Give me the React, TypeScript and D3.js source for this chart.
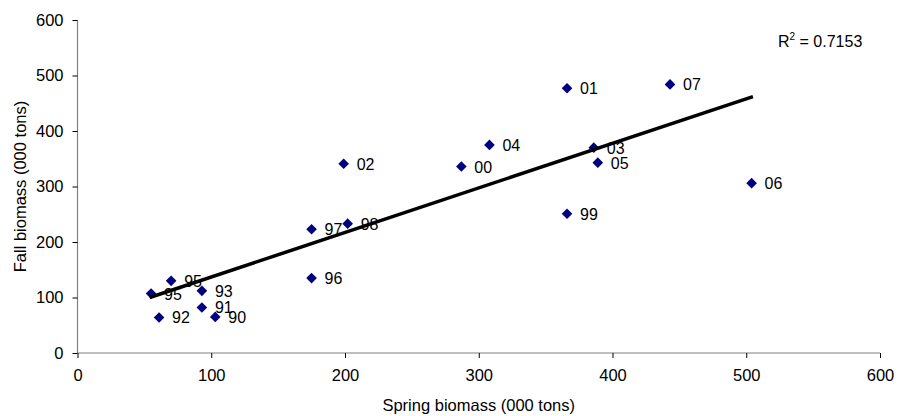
import { useEffect, useRef } from "react";
import * as d3 from "d3";

const years = ["01", "07", "03", "05", "06", "99", "04", "02", "00", "97", "98", "96", "95", "93", "95", "92", "91", "90"];
const spring = [366, 443, 386, 389, 504, 366, 308, 199, 287, 175, 202, 175, 70, 93, 55, 61, 93, 103];
const fall = [477, 484, 370, 343, 306, 251, 375, 341, 336, 223, 233, 135, 130, 112, 107, 64, 82, 65];
const trendX = [54, 505];
const trendY = [100, 462];
const ticks = [0, 100, 200, 300, 400, 500, 600];

const App = () => {
  const svgRef = useRef(null);

  useEffect(() => {
    const svg = d3.select(svgRef.current);
    svg.selectAll("*").remove();
    const width = 898;
    const height = 416;
    const margin = { top: 20, right: 18, bottom: 63, left: 77.5 };
    const font = "Liberation Sans, Arial, sans-serif";

    const x = d3.scaleLinear().domain([0, 600]).range([margin.left, width - margin.right]);
    const y = d3.scaleLinear().domain([0, 600]).range([height - margin.bottom, margin.top]);

    const xAxis = svg
      .append("g")
      .attr("transform", `translate(0, ${y(0)})`)
      .call(d3.axisBottom(x).tickValues(ticks).tickSize(5).tickPadding(11) as any);
    const yAxis = svg
      .append("g")
      .attr("transform", `translate(${x(0)}, 0)`)
      .call(d3.axisLeft(y).tickValues(ticks).tickSize(5).tickPadding(9) as any);

    [xAxis, yAxis].forEach((g) => {
      g.selectAll("path").attr("stroke", "#808080").attr("stroke-width", 1.2);
      g.selectAll("line").attr("stroke", "#000").attr("stroke-width", 1);
      g.selectAll("text")
        .attr("font-family", font)
        .attr("font-size", "16.5px")
        .attr("fill", "#000");
    });
    xAxis.select("path").attr("d", `M${x(0)},0H${x(600)}`);
    yAxis.select("path").attr("d", `M0,${y(600)}V${y(0)}`);

    // titles
    svg
      .append("text")
      .attr("x", (x(0) + x(600)) / 2)
      .attr("y", height - 5)
      .attr("text-anchor", "middle")
      .attr("font-family", font)
      .attr("font-size", "16.5px")
      .text("Spring biomass (000 tons)");
    svg
      .append("text")
      .attr("transform", `translate(26, ${(y(0) + y(600)) / 2}) rotate(-90)`)
      .attr("text-anchor", "middle")
      .attr("font-family", font)
      .attr("font-size", "16.5px")
      .text("Fall biomass (000 tons)");

    const pts = years.map((yr, i) => ({ yr, sx: spring[i], fy: fall[i] }));

    const diamond = d3.symbol().type(d3.symbolDiamond2).size(72);
    svg
      .selectAll(".pt")
      .data(pts)
      .enter()
      .append("path")
      .attr("class", "pt")
      .attr("d", diamond as any)
      .attr("transform", (d) => `translate(${x(d.sx)}, ${y(d.fy)})`)
      .attr("fill", "#000080");

    // trend line
    svg
      .append("line")
      .attr("x1", x(trendX[0]))
      .attr("y1", y(trendY[0]))
      .attr("x2", x(trendX[1]))
      .attr("y2", y(trendY[1]))
      .attr("stroke", "#000")
      .attr("stroke-width", 3.5);

    svg
      .selectAll(".lbl")
      .data(pts)
      .enter()
      .append("text")
      .attr("class", "lbl")
      .attr("x", (d) => x(d.sx) + 13)
      .attr("y", (d) => y(d.fy) + 6)
      .attr("font-family", font)
      .attr("font-size", "16px")
      .text((d) => d.yr);

    const r2 = svg
      .append("text")
      .attr("x", 778)
      .attr("y", 47)
      .attr("font-family", font)
      .attr("font-size", "16px");
    r2.append("tspan").text("R");
    r2.append("tspan").attr("dy", -7).attr("font-size", "10px").text("2");
    r2.append("tspan").attr("dy", 7).text(" = 0.7153");
  }, []);

  return (
    <svg
      ref={svgRef}
      width={898}
      height={416}
      style={{ position: "absolute", left: 0, top: 0, background: "#fff" }}
    ></svg>
  );
};

export default App;
